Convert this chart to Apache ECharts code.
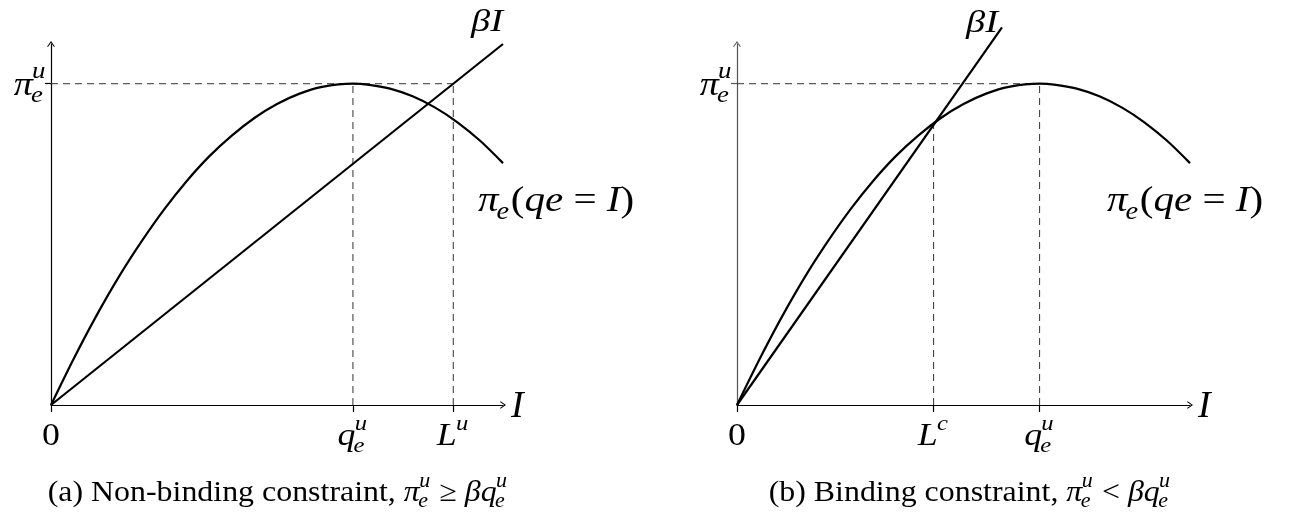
<!DOCTYPE html>
<html>
<head>
<meta charset="utf-8">
<script src="https://cdn.jsdelivr.net/npm/echarts@6/dist/echarts.min.js"></script>
<style>
  html, body { margin: 0; background: #fff; }
  #main { width: 1295px; height: 521px; }
</style>
</head>
<body>
<div id="main"></div>
<script>
// profit curve pi_e(qe = I) (same curve in both panels)
const profitX = [0, 0.5, 1, 1.5, 2, 2.5, 3, 3.5, 4, 4.5, 5, 5.5, 6, 6.68, 7, 7.5, 8, 8.5, 9, 9.5, 10];
const profitY = [0, 1.02, 1.97, 2.84, 3.62, 4.33, 4.96, 5.51, 5.97, 6.36, 6.67, 6.90, 7.05, 7.12, 7.10, 7.01, 6.84, 6.59, 6.26, 5.85, 5.36];

// beta * I lines
const betaXa = [0, 10];
const betaYa = [0, 8];
const betaXb = [0, 5.85];
const betaYb = [0, 8.37];

// reference levels
const qeu = 6.68;   // q_e^u
const piu = 7.12;   // pi_e^u
const Lu = 8.9;     // L^u (panel a)
const Lc = 4.34;    // L^c (panel b)
const piLc = 6.22;  // curve height at L^c

const ticksA = [0, qeu, Lu];
const ticksB = [0, Lc, qeu];

const SERIF = '"Liberation Serif", "DejaVu Serif", serif';
const ctx = document.createElement('canvas').getContext('2d');
function textWidth(s, size, italic) {
  ctx.font = (italic ? 'italic ' : '') + size + 'px ' + SERIF;
  return ctx.measureText(s).width;
}
function txt(s, x, y, size, italic) {
  return {
    type: 'text', x: x, y: y, silent: true,
    style: {
      text: s, fill: '#000', fontSize: size, fontFamily: SERIF,
      fontStyle: italic ? 'italic' : 'normal', align: 'left', verticalAlign: 'middle'
    }
  };
}
// tokens: ['r', text] roman, ['i', text] italic, ['s', sub, sup] scripts
// sx stretches the text sideways (computer modern is wider than the serif we have)
function mathGroup(tokens, size, x, y, align, sx) {
  sx = sx || 1;
  const kids = [];
  const small = Math.round(size * 0.7);
  let cx = 0;
  tokens.forEach(function (t) {
    if (t[0] === 'r' || t[0] === 'i') {
      kids.push(txt(t[1], cx, 0, size, t[0] === 'i'));
      cx += textWidth(t[1], size, t[0] === 'i');
    } else {
      let w = 0;
      if (t[1]) {
        kids.push(txt(t[1], cx - size * 0.05, size * 0.3, small, true));
        w = Math.max(w, textWidth(t[1], small, true) - size * 0.05);
      }
      if (t[2]) {
        kids.push(txt(t[2], cx - size * 0.02, -size * 0.4, small, true));
        w = Math.max(w, textWidth(t[2], small, true) - size * 0.02);
      }
      cx += w + size * 0.04;
    }
  });
  const shift = align === 'center' ? -cx * sx / 2 : align === 'right' ? -cx * sx : 0;
  return { type: 'group', x: x + shift, y: y, scaleX: sx, children: kids, silent: true };
}

function pairs(xs, ys) {
  return xs.map(function (x, i) { return [x, ys[i]]; });
}

const arrow = 'path://M5,0 L10,7 L9,7.8 L5,2.2 L1,7.8 L0,7 Z';

function xAxisFor(grid, ticks) {
  return {
    type: 'value', gridIndex: grid, min: 0, max: 10,
    splitLine: { show: false },
    axisLine: { lineStyle: { color: '#000', width: 1.2 }, symbol: ['none', arrow], symbolSize: [8, 6] },
    axisTick: { show: true, length: 7, inside: false, customValues: ticks, lineStyle: { color: '#000', width: 1.2 } },
    axisLabel: { show: false }
  };
}
function yAxisFor(grid, color) {
  return {
    type: 'value', gridIndex: grid, min: 0, max: 8,
    splitLine: { show: false },
    axisLine: { lineStyle: { color: color, width: 1.2 }, symbol: ['none', arrow], symbolSize: [8, 6] },
    axisTick: { show: true, length: 6, customValues: [piu], lineStyle: { color: color, width: 1.2 } },
    axisLabel: { show: false }
  };
}

function solid(grid, data) {
  return {
    type: 'line', xAxisIndex: grid, yAxisIndex: grid, data: data,
    showSymbol: false, smooth: 0.3, clip: false, silent: true,
    lineStyle: { color: '#000', width: 2.2 }
  };
}
function dashed(grid, data) {
  return {
    type: 'line', xAxisIndex: grid, yAxisIndex: grid, data: data,
    showSymbol: false, clip: false, silent: true,
    lineStyle: { color: '#333', width: 1, type: [7, 5] }
  };
}

const chart = echarts.init(document.getElementById('main'), null, { renderer: 'canvas' });
chart.setOption({
  animation: false,
  backgroundColor: '#fff',
  grid: [
    { left: 51, top: 44, width: 452, height: 361 },
    { left: 737, top: 44, width: 453, height: 361 }
  ],
  xAxis: [xAxisFor(0, ticksA), xAxisFor(1, ticksB)],
  yAxis: [yAxisFor(0, '#000'), yAxisFor(1, '#555')],
  series: [
    dashed(0, [[0, piu], [Lu, piu]]),
    dashed(0, [[qeu, 0], [qeu, piu]]),
    dashed(0, [[Lu, 0], [Lu, piu]]),
    solid(0, pairs(profitX, profitY)),
    solid(0, pairs(betaXa, betaYa)),
    dashed(1, [[0, piu], [qeu, piu]]),
    dashed(1, [[qeu, 0], [qeu, piu]]),
    dashed(1, [[Lc, 0], [Lc, piLc]]),
    solid(1, pairs(profitX, profitY)),
    solid(1, pairs(betaXb, betaYb))
  ]
});

function px(grid, x, y) {
  return chart.convertToPixel({ gridIndex: grid }, [x, y]);
}

const LS = 32;   // tick label size
const graphics = [];
[[0, ticksA, [[['r', '0']], [['i', 'q'], ['s', 'e', 'u']], [['i', 'L'], ['s', '', 'u']]]],
 [1, ticksB, [[['r', '0']], [['i', 'L'], ['s', '', 'c']], [['i', 'q'], ['s', 'e', 'u']]]]
].forEach(function (p) {
  const g = p[0];
  p[1].forEach(function (v, i) {
    const pt = px(g, v, 0);
    graphics.push(mathGroup(p[2][i], LS, pt[0], pt[1] + 32, 'center', 1.12));
  });
  const pe = px(g, 10, 0);
  graphics.push(mathGroup([['i', 'I']], 38, pe[0] + 8, pe[1] + 2, 'left'));
  const pp = px(g, 0, piu);
  graphics.push(mathGroup([['i', 'π'], ['s', 'e', 'u']], 34, pp[0] - 4, pp[1] + 2, 'right', 1.12));
  const pc = px(g, profitX[profitX.length - 1], profitY[profitY.length - 1]);
  graphics.push(mathGroup([['i', 'π'], ['s', 'e', ''], ['r', '('], ['i', 'qe'], ['r', ' = '], ['i', 'I'], ['r', ')']],
    36, g === 0 ? pc[0] - 25 : pc[0] - 83, pc[1] + 38, 'left', 1.14));
});
const ba = px(0, betaXa[1], betaYa[1]);
graphics.push(mathGroup([['i', 'βI']], 32, ba[0], ba[1] - 21, 'right', 1.2));
const bb = px(1, betaXb[1], betaYb[1]);
graphics.push(mathGroup([['i', 'βI']], 32, bb[0] - 4, bb[1] - 4, 'right', 1.2));

// captions
graphics.push(mathGroup([['r', '(a) Non-binding constraint, '], ['i', 'π'], ['s', 'e', 'u'], ['r', ' ≥ '], ['i', 'βq'], ['s', 'e', 'u']],
  29, 278, 493, 'center', 1.1));
graphics.push(mathGroup([['r', '(b) Binding constraint, '], ['i', 'π'], ['s', 'e', 'u'], ['r', ' < '], ['i', 'βq'], ['s', 'e', 'u']],
  29, 970, 493, 'center', 1.1));

chart.setOption({ graphic: graphics });
</script>
</body>
</html>
